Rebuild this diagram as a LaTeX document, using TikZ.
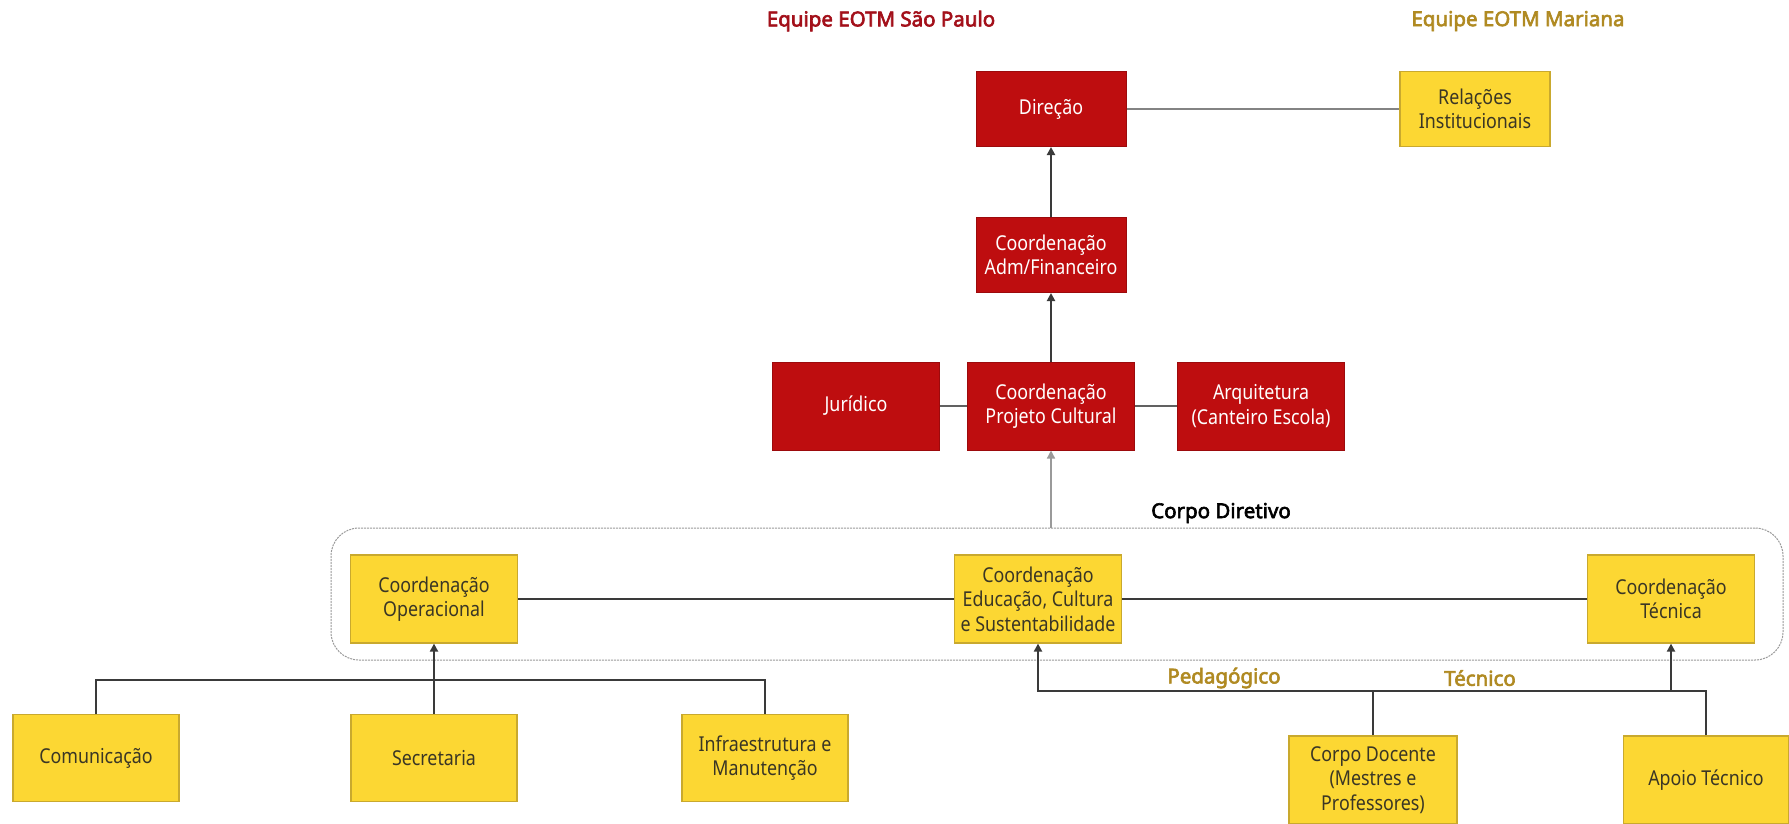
\documentclass[tikz,border=0pt]{standalone}
\usepackage{fontspec}
\setmainfont{Noto Sans}
\newfontfamily\boxfont{Noto Sans}[FakeStretch=0.87]
\newfontfamily\headfont{Noto Sans}[FakeBold=3]
\usetikzlibrary{arrows.meta}
\definecolor{boxred}{HTML}{BE0D0F}
\definecolor{boxredline}{HTML}{9C0A0C}
\definecolor{boxyel}{HTML}{FCD733}
\definecolor{boxyelline}{HTML}{C9A92E}
\definecolor{yeltext}{HTML}{3A3625}
\definecolor{titlered}{HTML}{A3101A}
\definecolor{titlegold}{HTML}{B08A22}
\definecolor{conn}{HTML}{3A3A3A}
\definecolor{lightconn}{HTML}{9A9A9A}
\tikzset{
  x=1pt, y=-1pt,
  boxtext/.style={font=\boxfont\fontsize{20.5}{24.5}\selectfont, align=center, inner sep=0pt},
  redbox/.style={boxtext, draw=boxredline, line width=1pt, fill=boxred, text=white},
  yelbox/.style={boxtext, draw=boxyelline, line width=1.2pt, fill=boxyel, text=yeltext},
  sz1/.style={minimum width=150pt, minimum height=75pt},
  sz2/.style={minimum width=167pt, minimum height=88pt},
  heading/.style={font=\headfont\fontsize{20.5}{24}\selectfont, inner sep=0pt},
  thick conn/.style={draw=conn, line width=2.6pt},
  thin conn/.style={draw=conn, line width=1.6pt},
  arr/.style={-{Triangle[length=8pt,width=8pt]}},
}
\begin{document}
\begin{tikzpicture}
\useasboundingbox[fill=white] (0,0) rectangle (1789,823);

% titles
\node[heading, text=titlered] (tsp) at (881,21) {Equipe EOTM São Paulo};
\node[heading, text=titlegold] (tmar) at (1518,21) {Equipe EOTM Mariana};

% top boxes
\node[redbox, sz1] (dir) at (1051,109) {Direção};
\node[yelbox, sz1] (rel) at (1475,109) {Relações\\Institucionais};
\node[redbox, sz1] (adm) at (1051,255) {Coordenação\\Adm/Financeiro};
\node[redbox, sz2] (jur) at (856,406) {Jurídico};
\node[redbox, sz2] (proj) at (1051,406) {Coordenação\\Projeto Cultural};
\node[redbox, sz2] (arq) at (1261,406) {Arquitetura\\(Canteiro Escola)};

% corpo diretivo frame
\node[draw=lightconn, line width=1pt, dash pattern=on 2pt off 1pt, rounded corners=28pt,
      minimum width=1452pt, minimum height=132pt, inner sep=0pt] (cd) at (1057,594) {};
\node[heading, text=black] (cdl) at (1221,513) {Corpo Diretivo};

\node[yelbox, sz2] (oper) at (434,599) {Coordenação\\Operacional};
\node[yelbox, sz2] (edu) at (1038,599) {Coordenação\\Educação, Cultura\\e Sustentabilidade};
\node[yelbox, sz2] (tec) at (1671,599) {Coordenação\\Técnica};

% bottom boxes
\node[yelbox, minimum width=166pt, minimum height=87pt] (com) at (96,758) {Comunicação};
\node[yelbox, minimum width=166pt, minimum height=87pt] (sec) at (434,758) {Secretaria};
\node[yelbox, minimum width=166pt, minimum height=87pt] (inf) at (765,758) {Infraestrutura e\\Manutenção};
\node[yelbox, minimum width=168pt, minimum height=88pt] (doc) at (1373,780) {Corpo Docente\\(Mestres e\\Professores)};
\node[yelbox, minimum width=165pt, minimum height=88pt] (apo) at (1706,780) {Apoio Técnico};

\node[heading, text=titlegold] (ped) at (1224,678) {Pedagógico};
\node[heading, text=titlegold] (tcn) at (1480,678) {Técnico};

% connectors
\draw[draw=lightconn!85!black, line width=2.6pt] (dir.east) -- (rel.west);
\draw[thick conn, arr] (adm.north) -- (dir.south);
\draw[thick conn, arr] (proj.north) -- (adm.south);
\draw[draw=conn!80, line width=2pt] (jur.east) -- (proj.west);
\draw[draw=conn!80, line width=2pt] (proj.east) -- (arq.west);
\draw[draw=lightconn, line width=1.4pt, arr] (proj.south |- cd.north) -- (proj.south);

\draw[thick conn] (oper.east) -- (edu.west);
\draw[thick conn] (edu.east) -- (tec.west);

\coordinate (lb) at (434,680);
\draw[thin conn] (com.north) |- (lb) -| (inf.north);
\draw[thick conn, arr] (sec.north) -- (oper.south);

\coordinate (rb) at (1373,691);
\draw[thick conn, arr] (doc.north) -- (rb) -| (edu.south);
\draw[thick conn] (apo.north) |- (rb);
\draw[thick conn, arr] (tec.south |- rb) -- (tec.south);
\end{tikzpicture}
\end{document}
